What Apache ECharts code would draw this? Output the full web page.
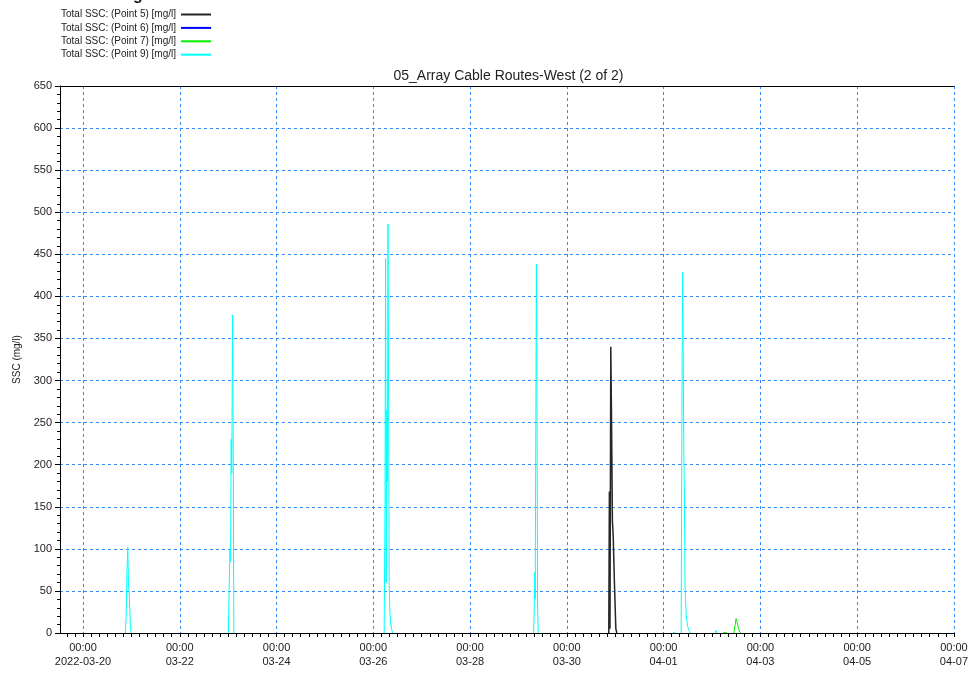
<!DOCTYPE html>
<html>
<head>
<meta charset="utf-8">
<script src="https://cdn.jsdelivr.net/npm/echarts@6/dist/echarts.min.js"></script>
<style>html,body{margin:0;padding:0;background:#fff}#c{width:971px;height:673px}</style>
</head>
<body>
<div id="c"></div>
<script>
// x values: hours since 2022-03-20 00:00
const xStart = -11.4;
const xEnd = 432;
const majorTicks = [0, 48, 96, 144, 192, 240, 288, 336, 384, 432];
const tickLabels = ['00:00\n2022-03-20', '00:00\n03-22', '00:00\n03-24', '00:00\n03-26', '00:00\n03-28',
                    '00:00\n03-30', '00:00\n04-01', '00:00\n04-03', '00:00\n04-05', '00:00\n04-07'];
const minorTicks = [-8, -4, 0, 4, 8, 12, 16, 20, 24, 28, 32, 36, 40, 44, 48, 52, 56, 60, 64, 68, 72, 76, 80, 84, 88, 92,
  96, 100, 104, 108, 112, 116, 120, 124, 128, 132, 136, 140, 144, 148, 152, 156, 160, 164, 168, 172, 176, 180, 184, 188,
  192, 196, 200, 204, 208, 212, 216, 220, 224, 228, 232, 236, 240, 244, 248, 252, 256, 260, 264, 268, 272, 276, 280, 284,
  288, 292, 296, 300, 304, 308, 312, 316, 320, 324, 328, 332, 336, 340, 344, 348, 352, 356, 360, 364, 368, 372, 376, 380,
  384, 388, 392, 396, 400, 404, 408, 412, 416, 420, 424, 428, 432];

const seriesNames = ['Total SSC: (Point 5) [mg/l]', 'Total SSC: (Point 6) [mg/l]', 'Total SSC: (Point 7) [mg/l]', 'Total SSC: (Point 9) [mg/l]'];

const pt5 = [[260.8, 0], [261.1, 168], [261.4, 5], [261.8, 340], [262.2, 246], [262.6, 133], [263.0, 115], [263.6, 60], [264.3, 5], [264.8, 0]];
const pt6 = [];
const pt7 = [[317.5, 0], [318.5, 1], [319.5, 0], ['-', '-'], [322.8, 0], [323.5, 10], [323.9, 17], [324.3, 14], [324.7, 12], [325.2, 5], [325.8, 1], [326.4, 0]];
const pt9 = [
  [21.0, 0], [21.4, 20], [21.8, 70], [22.2, 102], [22.6, 57], [23.0, 45], [23.5, 8], [23.9, 0], ['-', '-'],
  [72.1, 0], [72.5, 53], [72.9, 100], [73.2, 85], [73.5, 230], [73.8, 190], [74.2, 378], [74.6, 188], [74.8, 0], ['-', '-'],
  [149.4, 0], [149.8, 150], [150.1, 445], [150.4, 60], [150.7, 265], [151.0, 180], [151.3, 486], [151.6, 270], [151.9, 60], [152.2, 25], [152.6, 12], [153.1, 4], [153.6, 0], ['-', '-'],
  [223.5, 0], [223.8, 25], [224.1, 72], [224.3, 40], [224.6, 235], [224.9, 438], [225.2, 275], [225.5, 30], [225.8, 0], ['-', '-'],
  [292.5, 0], [293.5, 1], [294.0, 0], ['-', '-'],
  [296.7, 0], [297.0, 215], [297.4, 429], [297.7, 342], [298.0, 215], [298.3, 170], [298.6, 57], [299.2, 21], [299.9, 8], [300.6, 3], [301.4, 0], ['-', '-'],
  [313.5, 0], [314.0, 3], [314.5, 0]
];

const FONT = 'Liberation Sans, Arial, sans-serif';
const gridBlue = '#2a8cff';

const chart = echarts.init(document.getElementById('c'), null, {renderer: 'canvas'});
chart.setOption({
  animation: false,
  backgroundColor: '#ffffff',
  textStyle: {fontFamily: FONT},
  title: {
    text: '05_Array Cable Routes-West (2 of 2)',
    left: 508.5, top: 69, padding: 0, textAlign: 'center',
    textStyle: {fontFamily: FONT, fontSize: 14, fontWeight: 'normal', color: '#222'}
  },
  graphic: [{type: 'text', left: 133, top: -12, style: {text: 'g', font: 'bold 16px ' + FONT, fill: '#111'}}],
  legend: {
    orient: 'vertical', left: 61, top: 9, align: 'right', itemGap: 2.4, padding: 0,
    itemWidth: 30, itemHeight: 2, icon: 'rect',
    textStyle: {fontFamily: FONT, fontSize: 10, color: '#222', lineHeight: 11},
    data: seriesNames
  },
  grid: {left: 60, right: 14, top: 86, bottom: 40, containLabel: false},
  xAxis: [
    {
      type: 'value', min: xStart, max: xEnd, position: 'bottom',
      axisLine: {show: true, onZero: false, lineStyle: {color: '#000', width: 1}},
      axisTick: {show: false, customValues: majorTicks},
      axisLabel: {
        customValues: majorTicks, margin: 8, fontSize: 11, lineHeight: 14, color: '#222', fontFamily: FONT,
        formatter: function (v) { const i = majorTicks.indexOf(Math.round(v)); return i >= 0 ? tickLabels[i] : ''; }
      },
      splitLine: {show: true, lineStyle: {color: gridBlue, type: [3, 3], width: 1}}
    },
    {
      type: 'value', min: xStart, max: xEnd, position: 'bottom',
      axisLine: {show: false, onZero: false},
      axisTick: {show: true, length: 4, customValues: minorTicks, lineStyle: {color: '#000'}},
      axisLabel: {show: false},
      splitLine: {show: false}
    },
    {
      type: 'value', min: xStart, max: xEnd, position: 'top',
      axisLine: {show: true, onZero: false, lineStyle: {color: '#000', width: 1}},
      axisTick: {show: false}, axisLabel: {show: false}, splitLine: {show: false}
    }
  ],
  yAxis: {
    type: 'value', min: 0, max: 650, interval: 50, position: 'left',
    name: 'SSC (mg/l)', nameLocation: 'middle', nameGap: 36,
    nameTextStyle: {fontFamily: FONT, fontSize: 10, color: '#222'},
    axisLine: {show: true, onZero: false, lineStyle: {color: '#000', width: 1}},
    axisTick: {show: true, length: 5, lineStyle: {color: '#000'}},
    minorTick: {show: true, splitNumber: 5, length: 3, lineStyle: {color: '#000'}},
    axisLabel: {margin: 8, fontSize: 11, color: '#222', fontFamily: FONT},
    splitLine: {show: true, lineStyle: {color: gridBlue, type: [3, 3], width: 1}}
  },
  series: [
    {name: seriesNames[0], type: 'line', data: pt5, showSymbol: false, color: '#262626', lineStyle: {width: 1.5}, xAxisIndex: 0},
    {name: seriesNames[1], type: 'line', data: pt6, showSymbol: false, color: '#0000ff', lineStyle: {width: 1}, xAxisIndex: 0},
    {name: seriesNames[2], type: 'line', data: pt7, showSymbol: false, color: '#00ee00', lineStyle: {width: 1}, xAxisIndex: 0},
    {name: seriesNames[3], type: 'line', data: pt9, showSymbol: false, color: '#00ffff', lineStyle: {width: 1}, xAxisIndex: 0}
  ]
});
</script>
</body>
</html>
